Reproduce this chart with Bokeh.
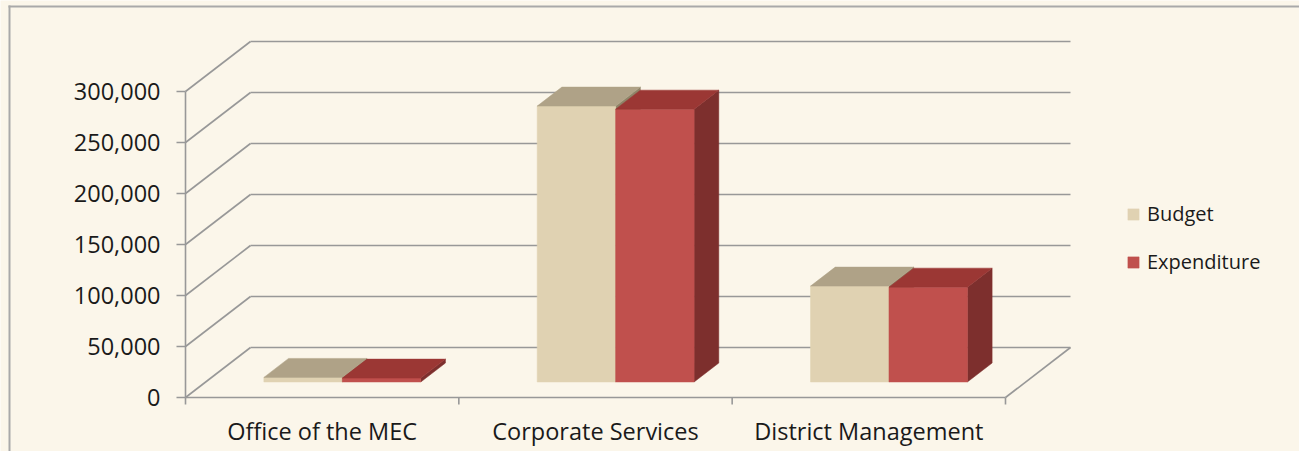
from bokeh.plotting import figure
from bokeh.models import Range1d, Legend, LegendItem
from bokeh.core.properties import value
from bokeh.embed import file_html
from bokeh.resources import INLINE

# ---------------- data ----------------
categories = ["Office of the MEC", "Corporate Services", "District Management"]
budget = [4500, 270500, 94000]
expenditure = [3800, 267500, 93000]
series_names = ["Budget", "Expenditure"]
y_ticks = [0, 50000, 100000, 150000, 200000, 250000, 300000]
y_tick_labels = ["0", "50,000", "100,000", "150,000", "200,000", "250,000", "300,000"]

# ---------------- layout / style ----------------
W, H = 1299, 451
AX_X, AX_Y = 185, 397     # figure px position of the value-axis origin
PX_X = 273.33             # px per category
PX_Y = 306.0 / 300000     # px per value unit
DEPTH_PX = (65, 50)       # 3-D depth offset in px
Z0, Z1 = 0.31, 0.69       # bar depth span
BW = 0.287                # bar width (category units)
FONT = "Open Sans"
FS = "23.5px"

BG = "#FBF6EA"
GRID = "#989898"
FRAME = "#a9a9a9"
TXT = "#1a1a1a"
faces = {
    "Budget": {"front": "#E0D2B2", "top": "#AFA287", "side": "#8F8468"},
    "Expenditure": {"front": "#C0504D", "top": "#9B3734", "side": "#7D2F2D"},
}

DX = DEPTH_PX[0] / PX_X
DY = DEPTH_PX[1] / PX_Y


def px_x(px):
    return (px - AX_X) / PX_X


def px_y(py):
    return (AX_Y - py) * (1 / PX_Y)


p = figure(width=W, height=H, output_backend="svg", toolbar_location=None,
           x_range=Range1d(px_x(0), px_x(W)), y_range=Range1d(px_y(H), px_y(0)),
           x_axis_type=None, y_axis_type=None,
           min_border=0, min_border_left=0, min_border_right=0,
           min_border_top=0, min_border_bottom=0,
           background_fill_color=BG, border_fill_color=BG, outline_line_color=None)
p.xgrid.visible = False
p.ygrid.visible = False

# outer chart-area border (left and top visible)
p.segment(x0=[px_x(9), px_x(8)], y0=[px_y(5), px_y(6)],
          x1=[px_x(9), px_x(W)], y1=[px_y(H), px_y(6)],
          line_color=FRAME, line_width=2)


def proj(x, y, z):
    return x + z * DX, y + z * DY


# gridlines: back wall + left wall diagonals + floor right edge
ncat = len(categories)
gx, gy = [], []
for t in y_ticks:
    a, b = proj(0, t, 1), proj(ncat, t, 1)
    gx.append([a[0], b[0]]); gy.append([a[1], b[1]])
    a, b = proj(0, t, 0), proj(0, t, 1)
    gx.append([a[0], b[0]]); gy.append([a[1], b[1]])
a, b = proj(ncat, 0, 0), proj(ncat, 0, 1)
gx.append([a[0], b[0]]); gy.append([a[1], b[1]])
p.multi_line(gx, gy, line_color=GRID, line_width=1.6)

# axis lines
p.segment(x0=[0, 0], y0=[0, 0], x1=[0, ncat], y1=[y_ticks[-1], 0],
          line_color=GRID, line_width=1.6)
# y ticks (9 px out)
p.segment(x0=[0] * len(y_ticks), y0=y_ticks, x1=[px_x(AX_X - 9)] * len(y_ticks), y1=y_ticks,
          line_color=GRID, line_width=1.6)
# x ticks at category boundaries (7 px down)
bounds = list(range(ncat + 1))
p.segment(x0=bounds, y0=[0] * len(bounds), x1=bounds, y1=[px_y(AX_Y + 7)] * len(bounds),
          line_color=GRID, line_width=1.6)

# bars
legend_items = []
for s, (name, vals) in enumerate(zip(series_names, [budget, expenditure])):
    fx, fy, tx, ty, sx, sy = [], [], [], [], [], []
    for i, v in enumerate(vals):
        xl = i + 0.5 - BW + s * BW
        xr = xl + BW
        pts = [proj(xl, 0, Z0), proj(xr, 0, Z0), proj(xr, v, Z0), proj(xl, v, Z0)]
        fx.append([q[0] for q in pts]); fy.append([q[1] for q in pts])
        pts = [proj(xl, v, Z0), proj(xr, v, Z0), proj(xr, v, Z1), proj(xl, v, Z1)]
        tx.append([q[0] for q in pts]); ty.append([q[1] for q in pts])
        pts = [proj(xr, 0, Z0), proj(xr, 0, Z1), proj(xr, v, Z1), proj(xr, v, Z0)]
        sx.append([q[0] for q in pts]); sy.append([q[1] for q in pts])
    c = faces[name]
    p.patches(sx, sy, fill_color=c["side"], line_color=c["side"], line_width=0.5)
    fr = p.patches(fx, fy, fill_color=c["front"], line_color=c["front"], line_width=0.5)
    p.patches(tx, ty, fill_color=c["top"], line_color=c["top"], line_width=0.5)
    legend_items.append(LegendItem(label=name, renderers=[fr]))

# tick labels
p.text(x=[0] * len(y_ticks), y=y_ticks, text=y_tick_labels, x_offset=-25,
       text_align="right", text_baseline="middle", text_color=TXT,
       text_font=value(FONT), text_font_size=value(FS))
p.text(x=[i + 0.5 for i in range(ncat)], y=[0] * ncat, text=categories, y_offset=33,
       text_align="center", text_baseline="middle", text_color=TXT,
       text_font=value(FONT), text_font_size=value(FS))

legend = Legend(items=legend_items, location=(1126, H - 275), padding=0, margin=0,
                spacing=21, glyph_width=14, glyph_height=14, label_standoff=7,
                label_text_font=FONT, label_text_font_size="20px",
                label_text_color=TXT, border_line_color=None, background_fill_alpha=0)
p.add_layout(legend)

open("out.html", "w").write(file_html(p, INLINE))
